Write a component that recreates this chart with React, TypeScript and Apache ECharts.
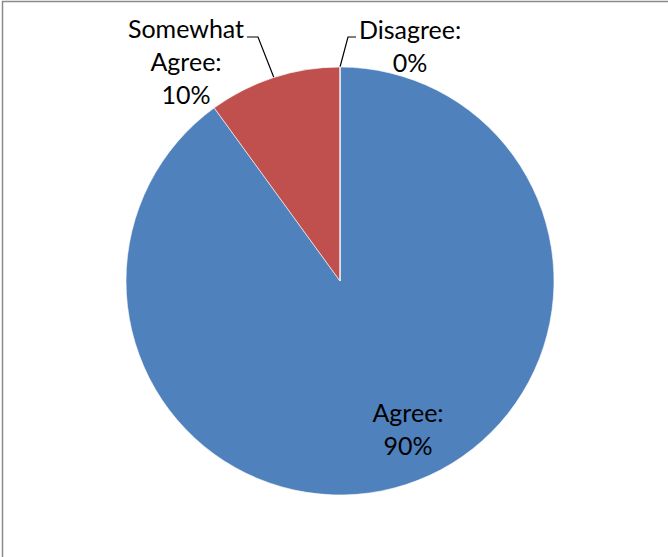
import React, { useEffect, useRef } from "react";
import * as echarts from "echarts";

const categories = ["Agree", "Somewhat Agree", "Disagree"];
const values = [90, 10, 0];
const labelNames = ["Agree:", "Somewhat\nAgree:", "Disagree:"];
const colors = ["#4F81BD", "#C0504D", "#9BBB59"];

const W = 668;
const H = 557;
const CX = 340;
const CY = 281;
const R = 214;

export default function App() {
  const ref = useRef<HTMLDivElement>(null);
  useEffect(() => {
    document.body.style.margin = "0";
    const chart = echarts.init(ref.current!, undefined, { renderer: "svg" });
    const font = "Lato, 'Liberation Sans', sans-serif";
    chart.setOption({
      animation: false,
      backgroundColor: "#ffffff",
      graphic: [
        {
          type: "rect",
          shape: { x: 2.5, y: 1.5, width: 800, height: 700 },
          style: { fill: "none", stroke: "#8a8a8a", lineWidth: 1.5 },
          silent: true,
        },
      ],
      series: [
        {
          type: "pie",
          center: [CX, CY],
          radius: [0, R],
          startAngle: 90,
          clockwise: true,
          avoidLabelOverlap: false,
          itemStyle: { borderColor: "#ffffff", borderWidth: 0.6 },
          label: {
            show: true,
            position: "outside",
            fontFamily: font,
            fontSize: 25,
            lineHeight: 33,
            color: "#000000",
            align: "center",
            formatter: (p: any) => `${labelNames[p.dataIndex]}\n${Math.round(p.percent)}%`,
          },
          labelLine: {
            show: true,
            lineStyle: { color: "#000000", width: 1.2 },
          },
          labelLayout: (p: any) => {
            const pts = p.labelLinePoints;
            const s = pts ? pts[0] : [CX, CY - R];
            if (p.dataIndex === 0) {
              return { x: CX + 68, y: CY + 147, align: "center", verticalAlign: "middle" };
            }
            if (p.dataIndex === 1) {
              return {
                x: CX - 154,
                y: CY - 220,
                align: "center",
                verticalAlign: "middle",
                labelLinePoints: [s, [CX - 82, CY - 244], [CX - 93, CY - 244]],
              };
            }
            return {
              x: CX + 70,
              y: CY - 236,
              align: "center",
              verticalAlign: "middle",
              labelLinePoints: [s, [CX + 8, CY - 244], [CX + 16, CY - 244]],
            };
          },
          data: categories.map((c, i) => ({
            name: c,
            value: values[i],
            itemStyle: { color: colors[i] },
            label: i === 0 ? { position: "inside" } : undefined,
            labelLine: i === 0 ? { show: false } : undefined,
          })),
        },
      ],
    });
    return () => chart.dispose();
  }, []);
  return <div ref={ref} style={{ width: W, height: H }} />;
}
